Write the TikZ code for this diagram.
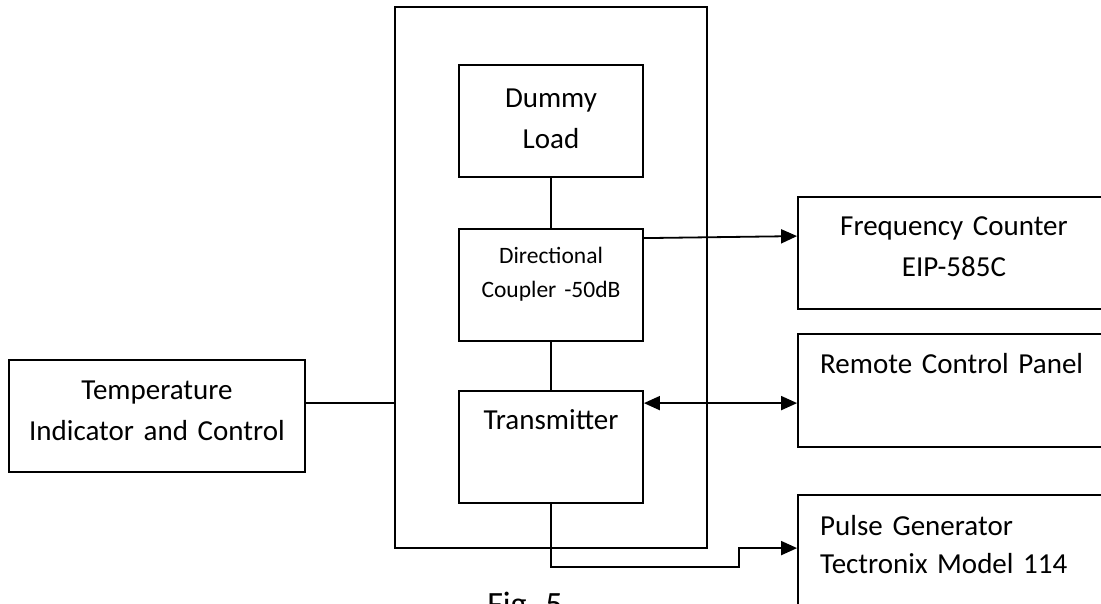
\documentclass[tikz,border=0pt]{standalone}
\usepackage{fontspec}
\setmainfont{Carlito}
\usetikzlibrary{arrows.meta,calc}
\tikzset{
  box/.style={draw, line width=1.8pt, inner sep=0pt},
  wire/.style={line width=1.8pt},
  arr/.style={wire, -{Triangle[length=16pt,width=14pt]}},
  darr/.style={wire, {Triangle[length=16pt,width=14pt]}-{Triangle[length=16pt,width=14pt]}},
  lbl/.style={inner sep=0pt, anchor=base, align=center, text width=300pt, font=\fontsize{29}{41}\selectfont},
  lbls/.style={inner sep=0pt, anchor=base, align=center, text width=200pt, font=\fontsize{23.5}{34}\selectfont},
  lbll/.style={inner sep=0pt, anchor=base west, align=left, text width=280pt, font=\fontsize{29}{38}\selectfont},
}
\begin{document}
\begin{tikzpicture}[x=1pt,y=-1pt]
\useasboundingbox (0,0) rectangle (1101,603);
\clip (0,0) rectangle (1101,603);
% boxes
\node[box, minimum width=312pt, minimum height=541pt] (outer) at (551,277.5) {};
\node[box, minimum width=184pt, minimum height=112pt] (dummy) at (551,121) {};
\node[box, minimum width=184pt, minimum height=112pt] (coupler) at (551,285) {};
\node[box, minimum width=184pt, minimum height=112pt] (trans) at (551,447) {};
\node[box, minimum width=296pt, minimum height=112pt] (temp) at (157,416) {};
\node[box, minimum width=312pt, minimum height=112pt] (freq) at (954,253) {};
\node[box, minimum width=312pt, minimum height=113pt] (remote) at (954,390.5) {};
\node[box, minimum width=312pt, minimum height=112pt] (pulse) at (954,551) {};
% labels
\node[lbl] (tdummy) at (551,107) {Dummy\\Load};
\node[lbls] (tcoupler) at (551,263) {Directional\\Coupler -50dB};
\node[lbl] (ttrans) at (551,429) {Transmitter};
\node[lbl] (ttemp) at (157,399) {Temperature\\Indicator and Control};
\node[lbl] (tfreq) at (954,235) {Frequency Counter\\EIP-585C};
\node[lbll] (tremote) at (820,373) {Remote Control Panel};
\node[lbll] (tpulse) at (820,535) {Pulse Generator\\Tectronix Model 114};
\node[inner sep=0pt, anchor=base, font=\fontsize{34}{40}\selectfont] (fig) at (525,615) {Fig. 5};
% connectors
\draw[wire] (dummy.south) -- (coupler.north);
\draw[wire] (coupler.south) -- (trans.north);
\draw[arr] ([yshift=-10pt]coupler.north east) -- ([yshift=-40pt]freq.north west);
\draw[darr] ([yshift=-13pt]trans.north east) -- ([yshift=-70pt]remote.north west);
\draw[wire] ([yshift=13pt]temp.east) -- ([yshift=13pt]temp.east -| outer.west);
\coordinate (bend) at (739,567);
\draw[arr] (trans.south) |- (bend) |- ([yshift=-54pt]pulse.north west);
\end{tikzpicture}
\end{document}
